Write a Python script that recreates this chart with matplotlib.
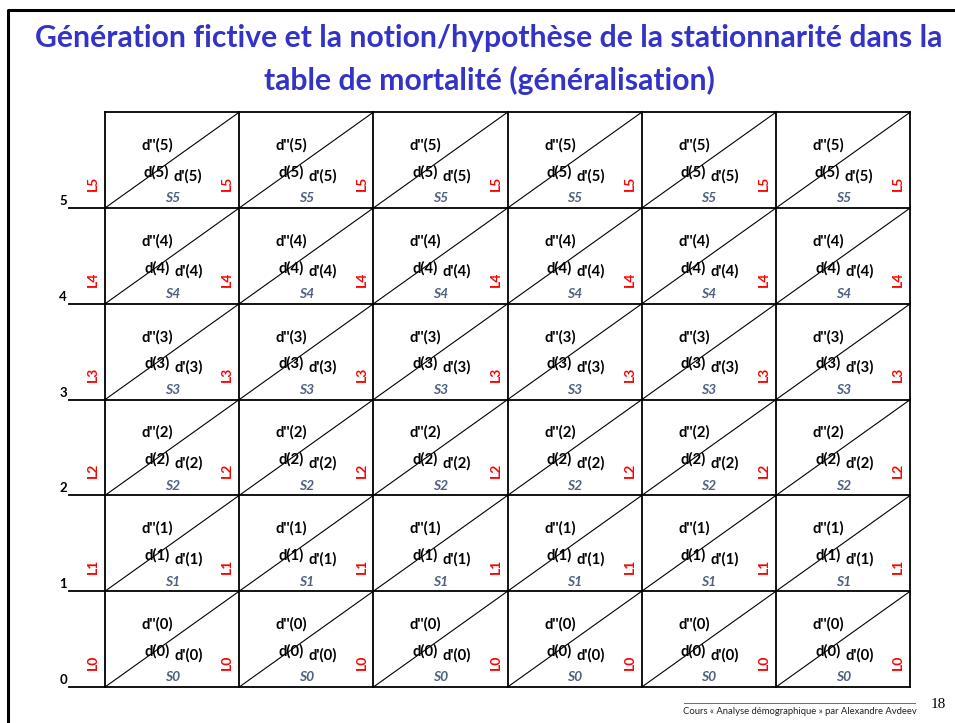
import matplotlib.pyplot as plt

# ages (rows, bottom to top) and generations (columns)
ages = [0, 1, 2, 3, 4, 5]
n_gen = 6
title = ("Génération fictive et la notion/hypothèse de la stationnarité dans la\n"
         "table de mortalité (généralisation)")
footer = "Cours « Analyse démographique » par Alexandre Avdeev"
page = "18"

# pixel geometry of the grid
x0, cw = 105, 134.2
y_bot, rh = 687, 95.8

fig = plt.figure(figsize=(9.55, 7.23), dpi=100)
ax = fig.add_axes([0, 0, 1, 1])
ax.set_xlim(0, 955)
ax.set_ylim(723, 0)
ax.axis('off')

# slide frame
ax.plot([8, 8, 960], [730, 10, 10], color='black', lw=2.2, solid_capstyle='butt')

ax.text(489, 59.5, title, ha='center', va='center', fontsize=21.7, fontweight='bold',
        color='#3333c8', family='Lato', linespacing=1.55)

x_right = x0 + n_gen * cw
y_top = y_bot - len(ages) * rh
for j in range(n_gen + 1):
    x = x0 + j * cw
    ax.plot([x, x], [y_top, y_bot], color='black', lw=1.3)
for i in range(len(ages) + 1):
    y = y_bot - i * rh
    left = x0 if i == len(ages) else 69
    ax.plot([left, x_right], [y, y], color='black', lw=1.3)

fs = 10.7
for i, a in enumerate(ages):
    yb = y_bot - i * rh
    ax.text(63, yb - 7, str(a), ha='center', va='center', fontsize=9.5,
            fontweight='bold', family='Lato')
    for j in range(n_gen + 1):
        x = x0 + j * cw
        ax.text(x - 12, yb - 0.26 * rh, 'L%d' % a, ha='center', va='center',
                rotation=90, fontsize=10, fontweight='bold', color='red', family='Lato')
    for j in range(n_gen):
        xl = x0 + j * cw
        ax.plot([xl, xl + cw], [yb, yb - rh], color='black', lw=0.8)
        ax.text(xl + 0.39 * cw, yb - 0.655 * rh, "d''(%d)" % a, ha='center', va='center',
                fontsize=fs, fontweight='bold', family='Lato')
        ax.text(xl + 0.385 * cw, yb - 0.375 * rh, "d(%d)" % a, ha='center', va='center',
                fontsize=fs, fontweight='bold', family='Lato')
        ax.text(xl + 0.62 * cw, yb - 0.335 * rh, "d'(%d)" % a, ha='center', va='center',
                fontsize=fs, fontweight='bold', family='Lato')
        ax.text(xl + 0.5 * cw, yb - 0.1 * rh, 'S%d' % a, ha='center', va='center',
                fontsize=10, fontweight='bold', style='italic', color='#4f6080',
                family='Lato')

# footer
ax.plot([684, 915], [703, 703], color='#555555', lw=0.6)
ax.text(800, 711, footer, ha='center', va='center', fontsize=6.8, color='#222222',
        family='Lato')
ax.text(938, 705, page, ha='center', va='center', fontsize=11, family='Liberation Serif')

fig.savefig('out.png', dpi=100)
